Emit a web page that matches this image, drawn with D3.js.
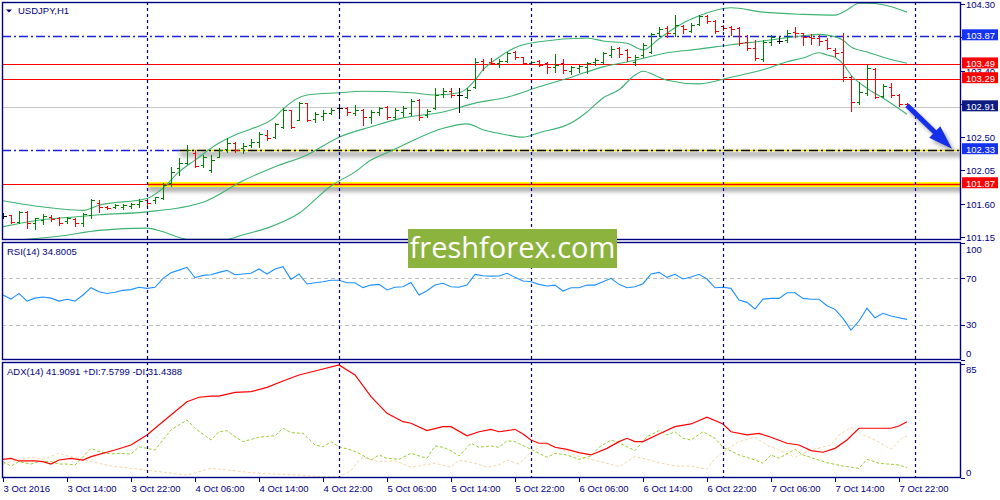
<!DOCTYPE html>
<html><head><meta charset="utf-8">
<script src="https://cdn.jsdelivr.net/npm/d3@7"></script>
<style>
body{margin:0;background:#fff;}
svg{display:block;font-family:"Liberation Sans",Arial,sans-serif;}
</style></head><body>
<svg id="c" width="1000" height="500"></svg>
<script>
// ---------------- DATA ----------------
const symbol = "USDJPY,H1";
const priceTicks = [104.30,103.85,103.40,102.95,102.50,102.05,101.60,101.15];
const timeLabels = ["3 Oct 2016","3 Oct 14:00","3 Oct 22:00","4 Oct 06:00","4 Oct 14:00","4 Oct 22:00","5 Oct 06:00","5 Oct 14:00","5 Oct 22:00","6 Oct 06:00","6 Oct 14:00","6 Oct 22:00","7 Oct 06:00","7 Oct 14:00","7 Oct 22:00"];
const timeLabelBars = [0,8,16,24,32,40,48,56,64,72,80,88,96,104,112];
const daySeparatorBars = [18,42,66,90,114];

const opens  = [101.43,101.45,101.35,101.49,101.34,101.38,101.42,101.41,101.37,101.39,101.34,101.45,101.61,101.56,101.56,101.56,101.57,101.60,101.65,101.65,
101.68,101.88,102.08,102.15,102.29,102.12,102.06,102.23,102.34,102.42,102.35,102.39,102.43,102.53,102.50,102.64,102.87,102.73,102.96,102.75,
102.79,102.83,102.89,102.89,102.83,102.87,102.77,102.84,102.91,102.77,102.84,102.83,103.00,102.80,102.89,103.08,103.12,103.07,103.04,103.18,
103.53,103.52,103.50,103.53,103.65,103.58,103.50,103.53,103.50,103.45,103.50,103.39,103.43,103.45,103.52,103.52,103.61,103.71,103.68,103.52,
103.61,103.65,103.91,103.98,103.91,104.00,103.94,104.03,104.14,104.07,104.00,103.99,103.98,103.79,103.71,103.56,103.79,103.80,103.81,103.92,
103.91,103.85,103.84,103.81,103.68,103.65,103.31,102.97,103.10,103.42,103.06,103.18,103.07,102.95];
const highs  = [101.47,101.45,101.50,101.50,101.41,101.46,101.45,101.42,101.42,101.41,101.47,101.66,101.65,101.57,101.60,101.60,101.61,101.66,101.66,101.69,
101.88,102.10,102.22,102.39,102.33,102.26,102.26,102.35,102.49,102.43,102.42,102.48,102.57,102.60,102.69,102.89,102.87,102.97,102.96,102.84,
102.87,102.89,102.91,102.91,102.93,102.88,102.87,102.91,102.92,102.89,102.92,103.02,103.02,102.88,103.16,103.16,103.16,103.16,103.16,103.57,
103.56,103.57,103.56,103.65,103.66,103.58,103.53,103.54,103.52,103.62,103.56,103.46,103.48,103.52,103.57,103.65,103.73,103.72,103.69,103.61,
103.77,103.91,103.99,104.00,104.15,104.02,104.04,104.15,104.15,104.08,104.02,104.00,103.99,103.88,103.81,103.81,103.88,103.85,103.95,103.99,
103.91,103.89,103.88,103.84,103.71,103.91,103.33,103.25,103.48,103.43,103.22,103.23,103.08,102.96];
const lows   = [101.41,101.34,101.34,101.27,101.26,101.33,101.37,101.31,101.34,101.30,101.30,101.41,101.49,101.53,101.54,101.53,101.54,101.56,101.57,101.61,
101.66,101.84,101.99,102.14,102.10,102.10,102.03,102.23,102.30,102.30,102.29,102.37,102.37,102.46,102.49,102.62,102.62,102.73,102.72,102.70,
102.73,102.81,102.80,102.80,102.80,102.66,102.69,102.80,102.75,102.75,102.79,102.80,102.73,102.77,102.88,103.04,103.04,102.84,103.03,103.16,
103.41,103.49,103.45,103.52,103.56,103.49,103.49,103.46,103.37,103.38,103.37,103.35,103.38,103.37,103.48,103.50,103.58,103.58,103.53,103.48,
103.58,103.64,103.87,103.85,103.87,103.91,103.92,104.02,104.04,103.91,103.95,103.88,103.75,103.68,103.54,103.53,103.75,103.77,103.79,103.85,
103.75,103.76,103.75,103.69,103.60,103.26,102.85,102.95,103.07,103.03,103.04,103.04,102.92,102.89];
const closes = [101.43,101.35,101.49,101.34,101.41,101.43,101.39,101.34,101.41,101.34,101.46,101.65,101.56,101.54,101.58,101.58,101.60,101.64,101.61,101.69,
101.85,102.03,102.15,102.33,102.11,102.23,102.19,102.33,102.42,102.33,102.38,102.43,102.54,102.49,102.68,102.87,102.64,102.96,102.73,102.81,
102.83,102.87,102.89,102.84,102.87,102.77,102.84,102.89,102.77,102.87,102.89,102.99,102.77,102.85,103.07,103.12,103.07,103.07,103.14,103.52,
103.49,103.50,103.53,103.64,103.58,103.50,103.52,103.48,103.45,103.48,103.41,103.45,103.46,103.50,103.54,103.64,103.69,103.62,103.58,103.58,
103.75,103.89,103.96,103.91,104.02,103.96,104.02,104.14,104.07,103.94,103.98,103.96,103.77,103.71,103.57,103.79,103.85,103.80,103.91,103.91,
103.85,103.84,103.80,103.71,103.64,103.31,102.97,103.11,103.43,103.04,103.19,103.07,102.95,102.91];

// Bollinger bands (20): [bar, price]
const bbUpper = [[0,101.64],[4,101.57],[10,101.51],[12,101.58],[18,101.67],[20,101.81],[22,102.03],[24,102.19],[27,102.42],[29,102.53],[31,102.61],[34,102.77],[35,102.88],[38,103.07],[42,103.10],[45,103.12],[51,103.10],[54,103.07],[57,103.10],[58,103.16],[59,103.27],[60,103.41],[62,103.58],[64,103.71],[67,103.79],[73,103.84],[75,103.80],[78,103.77],[80,103.68],[82,103.83],[84,103.98],[87,104.14],[91,104.25],[95,104.19],[100,104.16],[104,104.15],[105.5,104.22],[107,104.31],[108,104.31],[110,104.29],[113,104.19]];
const bbMiddle = [[0,101.29],[4,101.37],[10,101.43],[12,101.45],[18,101.49],[25,101.62],[30,101.91],[34,102.10],[38,102.26],[42,102.50],[46,102.64],[50,102.76],[55,102.84],[59,102.96],[63,103.04],[67,103.18],[71,103.31],[75,103.45],[79,103.54],[83,103.64],[87,103.69],[91,103.75],[95,103.80],[100,103.87],[102,103.89],[103,103.88],[105,103.81],[106,103.72],[108,103.65],[110,103.58],[113,103.50]];
const bbLower = [[0,101.10],[3,101.12],[7,101.16],[12,101.24],[18,101.27],[20,101.22],[23,101.12],[28,101.12],[30,101.18],[33,101.27],[37,101.47],[41,101.84],[44,102.03],[46,102.19],[48,102.29],[50,102.39],[55,102.62],[58,102.68],[60,102.60],[63,102.53],[65,102.50],[67,102.56],[71,102.69],[73,102.84],[75,103.03],[77,103.14],[79,103.34],[80,103.39],[82,103.31],[83,103.27],[87,103.22],[91,103.31],[95,103.41],[98,103.52],[100,103.57],[102,103.64],[103,103.61],[104,103.58],[105,103.49],[106,103.34],[108,103.16],[110,103.03],[113,102.81]];

// horizontal levels
const levelBlue = [103.87, 102.33];
const levelRed = [103.49, 103.29, 101.87];
const bidPrice = 102.91;
const highlightLevel = 101.87;   // yellow highlighted trend line
const dashedTrendLevel = 102.33; // black/yellow trend line

// RSI(14), one value per bar
const rsi = [55.7,52.2,57.1,50.5,53,54,53,50.5,52,50.5,55.7,62,58.5,57,58,59.7,60.3,62.3,61.4,62.3,
70,74.8,77,79.4,70.5,72.5,73.1,75.1,76.8,73.1,73.7,74.3,78,73.7,78,79.9,69.1,73.7,65.1,66.2,
67.1,68.3,68.3,66.2,66.2,62,64.2,64.8,60,62.3,62.8,66.5,55.7,59.4,64.2,65.7,62.8,62.3,64.2,73.4,
72.2,71.9,72,74.3,70.8,67.7,67.1,64.8,63.4,64.2,59.1,61.9,61.9,64.2,64.2,67.1,70,64.8,61.9,62.8,
65.4,73.7,75.1,70.8,73.4,69.4,71.1,73.4,69.4,61.9,62.3,61.4,51.4,49.4,43.7,52.2,52.8,52.8,57.6,57.6,
52.8,52,52,46.5,43.4,35.7,25.7,33.4,44.3,36.2,40,37.7,36.2,34.8];
const rsiLevels = [70, 30];
const rsiLabels = [100, 70, 30, 0];

// ADX(14), +DI, -DI: [bar, value]
const adx = [[0,13.9],[1,14.6],[2,12.7],[4,12.7],[5,12.2],[6,10.4],[7,13.4],[8.5,14.6],[10,13.4],[11,15.9],[14,20.9],[16,24.6],[18,32.1],[20.5,44.5],[23,56.9],[24.5,60.2],[26,61.1],[27,61.1],[29,63.9],[31,64.4],[33,67.6],[35,72.3],[37,76.8],[39.5,80.5],[42,84.3],[44,76.8],[46,60.6],[48,48.2],[50,42],[51,40.8],[53,35.3],[55,38.3],[56,38.3],[58,31.5],[59.5,34.5],[61,36.3],[62,34.5],[63,35.3],[64,36.3],[65,32.8],[66,28.3],[67,25.9],[68,25.9],[69,22.9],[70.5,21.4],[72,18.9],[73.5,17.2],[75.5,22.1],[77,27.1],[78,29.6],[79,27.1],[80,27.1],[82,32.8],[84,38.3],[86,40.3],[88,45.3],[90,40.3],[91,34.5],[93,32.1],[94.5,33.3],[96,30.4],[98,25.9],[99.5,24.6],[101,20.4],[102.5,19.2],[104,22.1],[105.5,28.3],[107,37.1],[111,37.1],[112,38.8],[113,41.9]];
const plusDI = [[0,12.2],[1,8.9],[2,12.2],[3.5,10.4],[4.5,12.2],[6,12.2],[7,10.4],[8,10.4],[9,9.7],[11,22.1],[12,19.6],[13.5,17.9],[14.5,18.4],[16,17.9],[17,23.3],[18,22.1],[19,20.9],[19.5,24.6],[21,35.8],[22,39.5],[23,43.2],[24,37.1],[26,28.3],[27,34.5],[28,35.3],[29,30.8],[30,27.1],[32,30.4],[33.5,31.3],[34,31.3],[35,37.1],[36,33.8],[37.5,33.3],[39,24.6],[40,23.3],[41,27.1],[42,23.3],[43.5,20.9],[44.5,18.4],[46,13.4],[47,17.2],[48,14.7],[49.5,13.9],[51,18.4],[53,14.7],[54,23.9],[55,22.9],[56,20.4],[57,16.4],[58.5,25.9],[59.5,22.9],[61,23.9],[62,22.9],[63,27.8],[64,27.1],[66,21.4],[68,15.4],[69,18.4],[70.5,17.2],[72,13.9],[73.5,16.4],[74.5,22.9],[76,28.3],[77,26.3],[79,20.4],[80.5,30.8],[82,35.3],[83,32.1],[84,34.5],[85,29.6],[86,28.3],[87.5,34.5],[89,29.6],[90,22.9],[92,17.2],[94,13.4],[95,11],[96,17.2],[97,14.7],[99,21.4],[100,17.2],[103,11.4],[105,8.9],[107,7.2],[108,13.9],[109.5,11],[112,9.7],[113,7.58]];
const minusDI = [[0,10.4],[1,12.2],[3.5,15.4],[5,13.9],[7,18.4],[8,16.4],[9.5,14.7],[11,12.2],[13.5,8.9],[16,7.2],[18.5,5.4],[20.5,4],[23,2.2],[24.5,4.7],[26,7.2],[29,5.4],[31,4],[34,3],[37,2.2],[39.5,1],[42,1],[43.5,5.4],[44.5,13.4],[45,15.4],[47,12.2],[49,12.9],[51,8],[54,11],[56,8],[57,13.4],[59,11],[60.5,8],[62,9.7],[63,13.4],[64.5,10.4],[66,19.6],[68,25.4],[70,20.9],[72,15.9],[73.5,13.9],[75.5,11],[77,8.4],[79,15.9],[80.5,13.9],[82,11.4],[84,8.9],[86,8.9],[88,6.5],[89,14.7],[90.5,21.4],[92,27.1],[94,30.4],[95.5,24.6],[97,20.9],[99,15.4],[101,20.9],[103.5,24.6],[104.5,32.1],[106,37.8],[107.5,32.1],[109,28.3],[111,21.4],[112.5,30.4],[113,31.4]];
const adxLabels = [85, 0];
const rsiTitle = "RSI(14) 34.8005";
const adxTitle = "ADX(14) 41.9091 +DI:7.5799 -DI:31.4388";
const watermark = "freshforex.com";

// ---------------- LAYOUT ----------------
const L = 2, R = 961;
const mainTop = 2, mainBot = 240, rsiTop = 242, rsiBot = 360, adxTop = 362, adxBot = 478;
const NAVY = "#000080";

const svg = d3.select("#c");
const x = d3.scaleLinear().domain([0, 113]).range([3, 907]);
const y = d3.scaleLinear().domain([101.15, 104.30]).range([237, 4]);
const yR = d3.scaleLinear().domain([0, 100]).range([360, 243.3]);
const yA = d3.scaleLinear().domain([0, 85]).range([478, 364]);

const defs = svg.append("defs");
[["cm", mainTop, mainBot], ["cr", rsiTop, rsiBot], ["ca", adxTop, adxBot]].forEach(([id, t, b]) => {
  defs.append("clipPath").attr("id", id).append("rect").attr("x", L).attr("y", t).attr("width", R - L).attr("height", b - t);
});
const blur = defs.append("filter").attr("id", "blur").attr("x", "-10%").attr("y", "-300%").attr("width", "120%").attr("height", "700%");
blur.append("feGaussianBlur").attr("stdDeviation", 2.2);
const blur2 = defs.append("filter").attr("id", "blur2").attr("x", "-50%").attr("y", "-50%").attr("width", "200%").attr("height", "200%");
blur2.append("feGaussianBlur").attr("stdDeviation", 2);

svg.append("rect").attr("width", 1000).attr("height", 500).attr("fill", "#fff");

// ---------- main panel ----------
const gm = svg.append("g").attr("clip-path", "url(#cm)");

// bid line
gm.append("line").attr("x1", L).attr("x2", R).attr("y1", Math.round(y(bidPrice)) + 0.5).attr("y2", Math.round(y(bidPrice)) + 0.5)
  .attr("stroke", "#c8c8c8").attr("stroke-width", 1);

// red levels
levelRed.forEach(p => {
  gm.append("line").attr("x1", L).attr("x2", R).attr("y1", Math.round(y(p)) + 0.5).attr("y2", Math.round(y(p)) + 0.5)
    .attr("stroke", "#ff0000").attr("stroke-width", 1.2);
});
// blue dash-dot levels
levelBlue.forEach(p => {
  gm.append("line").attr("x1", L).attr("x2", R).attr("y1", Math.round(y(p)) + 0.5).attr("y2", Math.round(y(p)) + 0.5)
    .attr("stroke", "#1a22d8").attr("stroke-width", 1.4).attr("stroke-dasharray", "9,3,2,3");
});

// yellow highlighted trend line at 101.87 (from bar 18)
{
  const yy = Math.round(y(highlightLevel)) + 0.5;
  const x0 = x(daySeparatorBars[0]) + 1;
  gm.append("rect").attr("x", x0).attr("y", yy + 1).attr("width", R - x0 + 10).attr("height", 6)
    .attr("fill", "#888").attr("opacity", 0.75).attr("filter", "url(#blur)");
  gm.append("rect").attr("x", x0).attr("y", yy - 2.5).attr("width", R - x0).attr("height", 5).attr("fill", "#ffff00");
  gm.append("line").attr("x1", x0).attr("x2", R).attr("y1", yy).attr("y2", yy).attr("stroke", "#ff0000").attr("stroke-width", 1.6);
}
// black/yellow dashed trend line at 102.33
{
  const yy = Math.round(y(dashedTrendLevel)) + 0.5;
  const x0 = 180;
  gm.append("rect").attr("x", x0).attr("y", yy + 0.5).attr("width", R - x0 + 10).attr("height", 6)
    .attr("fill", "#999").attr("opacity", 0.7).attr("filter", "url(#blur)");
  gm.append("rect").attr("x", x0).attr("y", yy - 1.5).attr("width", R - x0).attr("height", 3).attr("fill", "#fff").attr("opacity", 0.9);
  gm.append("line").attr("x1", x0).attr("x2", R).attr("y1", yy).attr("y2", yy).attr("stroke", "#f0e000").attr("stroke-width", 1.6);
  gm.append("line").attr("x1", x0).attr("x2", R).attr("y1", yy).attr("y2", yy).attr("stroke", "#000").attr("stroke-width", 1.6)
    .attr("stroke-dasharray", "9,3,2,3");
}

// Bollinger bands
const bbLine = d3.line().x(d => x(d[0])).y(d => y(d[1])).curve(d3.curveMonotoneX);
[bbUpper, bbMiddle, bbLower].forEach(band => {
  gm.append("path").attr("d", bbLine(band)).attr("fill", "none").attr("stroke", "#3cb371").attr("stroke-width", 1.1);
});

// OHLC bars
const bars = opens.map((o, i) => ({ i, o, h: highs[i], l: lows[i], c: closes[i] }));
const col = d => d.c > d.o ? "#008000" : (d.c < d.o ? "#ff0000" : "#000000");
const gb = gm.append("g");
bars.forEach(d => {
  const xx = Math.round(x(d.i)) + 0.5;
  const g = gb.append("g").attr("stroke", col(d)).attr("shape-rendering", "crispEdges");
  g.append("line").attr("x1", xx).attr("x2", xx).attr("y1", Math.round(y(d.h))).attr("y2", Math.round(y(d.l)) + 1).attr("stroke-width", 1.6);
  g.append("line").attr("x1", xx - 3).attr("x2", xx).attr("y1", Math.round(y(d.o)) + 0.5).attr("y2", Math.round(y(d.o)) + 0.5).attr("stroke-width", 1.3);
  g.append("line").attr("x1", xx).attr("x2", xx + 3.5).attr("y1", Math.round(y(d.c)) + 0.5).attr("y2", Math.round(y(d.c)) + 0.5).attr("stroke-width", 1.3);
});

// ---------- RSI panel ----------
const gr = svg.append("g").attr("clip-path", "url(#cr)");
rsiLevels.forEach(v => {
  gr.append("line").attr("x1", L).attr("x2", R).attr("y1", Math.round(yR(v)) + 0.5).attr("y2", Math.round(yR(v)) + 0.5)
    .attr("stroke", "#c0c0c0").attr("stroke-dasharray", "4,3");
});
gr.append("path").attr("d", d3.line().x((d, i) => x(i)).y(d => yR(d))(rsi))
  .attr("fill", "none").attr("stroke", "#1e90ff").attr("stroke-width", 1.1);

// ---------- ADX panel ----------
const ga = svg.append("g").attr("clip-path", "url(#ca)");
const aLine = d3.line().x(d => x(d[0])).y(d => yA(d[1]));
ga.append("path").attr("d", aLine(minusDI)).attr("fill", "none").attr("stroke", "#f5d8a8").attr("stroke-width", 1).attr("stroke-dasharray", "3,2");
ga.append("path").attr("d", aLine(plusDI)).attr("fill", "none").attr("stroke", "#9acd32").attr("stroke-width", 1).attr("stroke-dasharray", "3,2");
ga.append("path").attr("d", aLine(adx)).attr("fill", "none").attr("stroke", "#ff0000").attr("stroke-width", 1.2);

// day separators
daySeparatorBars.forEach(b => {
  const xx = Math.round(x(b)) + 0.5;
  svg.append("line").attr("x1", xx).attr("x2", xx).attr("y1", mainTop).attr("y2", adxBot)
    .attr("stroke", NAVY).attr("stroke-width", 1.2).attr("stroke-dasharray", "3,3");
});

// frames
[[mainTop, mainBot], [rsiTop, rsiBot], [adxTop, adxBot]].forEach(([t, b]) => {
  svg.append("rect").attr("x", L + 0.5).attr("y", t + 0.5).attr("width", R - L - 1).attr("height", b - t - 1)
    .attr("fill", "none").attr("stroke", NAVY).attr("stroke-width", 1.4);
});

// price label boxes (drawn over the axis)
const boxes = [
  [103.87, "#1432f0"], [103.49, "#ff0000"], [103.29, "#ff0000"], [bidPrice, "#0c1a82"], [102.33, "#1432f0"], [101.87, "#ff0000"]
];

// ---------- axes text ----------
const FS = 9.5;
const axisG = svg.append("g").attr("font-size", FS).attr("fill", NAVY);
priceTicks.forEach(p => {
  const yy = Math.round(y(p)) + 0.5;
  axisG.append("line").attr("x1", R).attr("x2", R + 4).attr("y1", yy).attr("y2", yy).attr("stroke", NAVY);
  // a tick label fully covered by a level box is not drawn
  const covered = boxes.some(([bp]) => Math.abs(y(bp) - y(p)) < 6);
  if (!covered) axisG.append("text").attr("x", R + 5).attr("y", yy + 3.5).text(p.toFixed(2));
});
rsiLabels.forEach(v => {
  const yy = Math.max(rsiTop + 7, Math.min(rsiBot - 7, yR(v)));
  axisG.append("line").attr("x1", R).attr("x2", R + 4).attr("y1", Math.round(yR(v)) + 0.5).attr("y2", Math.round(yR(v)) + 0.5).attr("stroke", NAVY);
  axisG.append("text").attr("x", R + 5).attr("y", yy + 3.5).text(v);
});
adxLabels.forEach(v => {
  const yy = Math.max(adxTop + 7, Math.min(adxBot - 6, yA(v)));
  axisG.append("line").attr("x1", R).attr("x2", R + 4).attr("y1", Math.round(yA(v)) + 0.5).attr("y2", Math.round(yA(v)) + 0.5).attr("stroke", NAVY);
  axisG.append("text").attr("x", R + 5).attr("y", yy + 3.5).text(v);
});
timeLabels.forEach((t, k) => {
  const xx = Math.round(x(timeLabelBars[k])) + 0.5;
  axisG.append("line").attr("x1", xx).attr("x2", xx).attr("y1", adxBot).attr("y2", adxBot + 4).attr("stroke", NAVY);
  axisG.append("text").attr("x", xx).attr("y", 492).text(t);
});

boxes.forEach(([p, c]) => {
  const yy = y(p);
  svg.append("rect").attr("x", R + 1).attr("y", yy - 6.5).attr("width", 36).attr("height", 11).attr("fill", c);
  svg.append("text").attr("x", R + 5).attr("y", yy + 2.8).attr("font-size", FS).attr("fill", "#fff").text(p.toFixed(2));
});

// titles
svg.append("path").attr("d", "M6,9.5 L12,9.5 L9,12.5 Z").attr("fill", NAVY);
svg.append("text").attr("x", 18).attr("y", 14).attr("font-size", FS).attr("fill", NAVY).text(symbol);
svg.append("text").attr("x", 7).attr("y", 255).attr("font-size", FS).attr("fill", NAVY).text(rsiTitle);
svg.append("text").attr("x", 7).attr("y", 375).attr("font-size", FS).attr("fill", NAVY).text(adxTitle);

// watermark
svg.append("rect").attr("x", 408).attr("y", 229).attr("width", 209).attr("height", 39).attr("fill", "#8db33f");
svg.append("text").attr("x", 512.5).attr("y", 258).attr("text-anchor", "middle").attr("font-family", "'Open Sans',sans-serif")
  .attr("font-size", 29).attr("fill", "#fff").text(watermark);

// arrow annotation
{
  const x1 = x(113), y1 = y(102.93), x2 = 952, y2 = y(dashedTrendLevel) - 1;
  const ang = Math.atan2(y2 - y1, x2 - x1);
  const hl = 24, hw = 8;
  const bx = x2 - hl * Math.cos(ang), by = y2 - hl * Math.sin(ang);
  const nx = -Math.sin(ang), ny = Math.cos(ang);
  const head = [[x2, y2], [bx + nx * hw, by + ny * hw], [bx - nx * hw, by - ny * hw]];
  const ga2 = svg.append("g");
  const sh = ga2.append("g").attr("transform", "translate(3,4)").attr("filter", "url(#blur2)").attr("opacity", 0.6);
  sh.append("line").attr("x1", x1).attr("y1", y1).attr("x2", bx).attr("y2", by).attr("stroke", "#777").attr("stroke-width", 5);
  sh.append("polygon").attr("points", head.map(p => p.join(",")).join(" ")).attr("fill", "#777");
  ga2.append("line").attr("x1", x1).attr("y1", y1).attr("x2", bx + 2 * Math.cos(ang)).attr("y2", by + 2 * Math.sin(ang)).attr("stroke", "#1530e8").attr("stroke-width", 5);
  ga2.append("polygon").attr("points", head.map(p => p.join(",")).join(" ")).attr("fill", "#1530e8");
}
</script>
</body></html>
